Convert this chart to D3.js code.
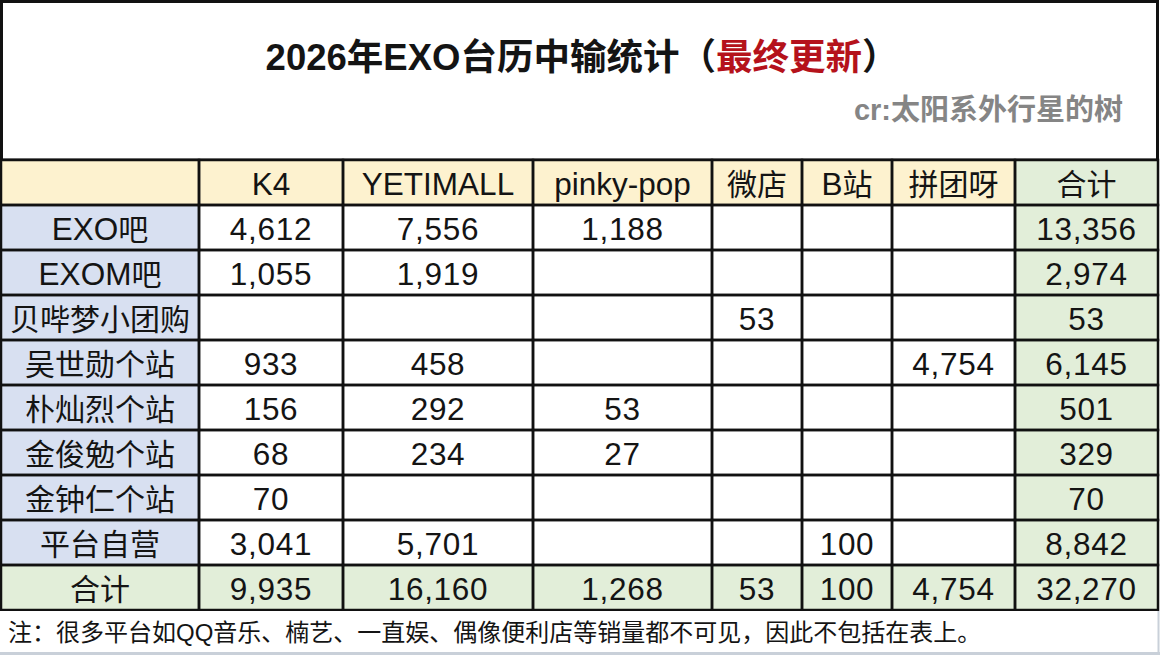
<!DOCTYPE html>
<html><head><meta charset="utf-8">
<script src="https://cdn.jsdelivr.net/npm/d3@7"></script>
<style>html,body{margin:0;padding:0;background:#fff;} svg{display:block}</style>
</head><body>
<svg id="chart" width="1160" height="656"></svg>
<script>
// ---------- data ----------
const titleMain = "2026年EXO台历中输统计（";
const titleRed = "最终更新";
const titleEnd = "）";
const credit = "cr:太阳系外行星的树";
const note = "注：很多平台如QQ音乐、楠艺、一直娱、偶像便利店等销量都不可见，因此不包括在表上。";
const columns = ["K4", "YETIMALL", "pinky-pop", "微店", "B站", "拼团呀"];
const totalLabel = "合计";
const rowLabels = ["EXO吧", "EXOM吧", "贝哔梦小团购", "吴世勋个站", "朴灿烈个站", "金俊勉个站", "金钟仁个站", "平台自营"];
const k4 =        [4612, 1055, null, 933, 156, 68, 70, 3041];
const yetimall =  [7556, 1919, null, 458, 292, 234, null, 5701];
const pinkyPop =  [1188, null, null, null, 53, 27, null, null];
const weidian =   [null, null, 53, null, null, null, null, null];
const bzhan =     [null, null, null, null, null, null, null, 100];
const pintuanya = [null, null, null, 4754, null, null, null, null];
const rowTotals = [13356, 2974, 53, 6145, 501, 329, 70, 8842];
const colTotals = [9935, 16160, 1268, 53, 100, 4754];
const grandTotal = 32270;

const seriesByColumn = [k4, yetimall, pinkyPop, weidian, bzhan, pintuanya];

// ---------- layout ----------
const W = 1160, H = 656;
const FONT = "'Liberation Sans', 'Noto Sans CJK SC', sans-serif";
const colKeys = ["label", ...columns, "total"];
const colEdges = [1, 199, 343, 533, 712, 802, 892, 1015, 1158];
const xLeft = d3.scaleOrdinal().domain(colKeys).range(colEdges.slice(0, -1));
const xRight = d3.scaleOrdinal().domain(colKeys).range(colEdges.slice(1));
const rowKeys = ["header", ...rowLabels, "total"];
const y = d3.scaleBand().domain(rowKeys).range([160, 610]);
const fmt = d3.format(",");

const C = {
  yellow: "#fdf2cf",
  blue: "#d8e0f1",
  green: "#e2eed9",
  white: "#ffffff",
  line: "#111",
  text: "#141414",
  red: "#b5121b",
  gray: "#858585"
};

// split a string into CJK / Latin runs
const CJK_RUN = /([\u3000-\u303f\u3400-\u9fff\uff00-\uffef]+)/;
const CJK_ONLY = /^[\u3000-\u303f\u3400-\u9fff\uff00-\uffef]+$/;
function runs(s) {
  return s.split(CJK_RUN).filter(p => p.length).map(p => ({ s: p, cjk: CJK_ONLY.test(p) }));
}

// build cell table
const cells = [];
rowKeys.forEach((r, ri) => {
  colKeys.forEach((c, ci) => {
    let text = "", fill = C.white, num = false;
    if (r === "header") {
      fill = c === "total" ? C.green : C.yellow;
      text = c === "label" ? "" : (c === "total" ? totalLabel : c);
    } else if (r === "total") {
      fill = C.green;
      if (c === "label") text = totalLabel;
      else if (c === "total") { text = fmt(grandTotal); num = true; }
      else { text = fmt(colTotals[ci - 1]); num = true; }
    } else {
      const i = ri - 1;
      if (c === "label") { fill = C.blue; text = r; }
      else if (c === "total") { fill = C.green; text = fmt(rowTotals[i]); num = true; }
      else {
        const v = seriesByColumn[ci - 1][i];
        text = v == null ? "" : fmt(v);
        num = v != null;
      }
    }
    cells.push({ r, c, text, fill, num });
  });
});

const svg = d3.select("#chart").attr("viewBox", `0 0 ${W} ${H}`);
svg.append("rect").attr("width", W).attr("height", H).attr("fill", "#fff");

// title box
svg.append("rect").attr("x", 1.5).attr("y", 1.5).attr("width", 1156).attr("height", 158.5)
  .attr("fill", "#fff").attr("stroke", C.line).attr("stroke-width", 3);

const t = svg.append("text").attr("x", 582).attr("y", 70).attr("text-anchor", "middle")
  .attr("font-family", FONT).attr("font-weight", "bold").attr("font-size", 36.5).attr("fill", C.text);
t.append("tspan").text(titleMain);
t.append("tspan").attr("fill", C.red).text(titleRed);
t.append("tspan").text(titleEnd);

svg.append("text").attr("x", 1123).attr("y", 120).attr("text-anchor", "end")
  .attr("font-family", FONT).attr("font-weight", "bold").attr("font-size", 29).attr("fill", C.gray)
  .text(credit);

// cells
const g = svg.append("g");
g.selectAll("rect.cell").data(cells).join("rect").attr("class", "cell")
  .attr("x", d => xLeft(d.c)).attr("y", d => y(d.r))
  .attr("width", d => xRight(d.c) - xLeft(d.c)).attr("height", y.bandwidth())
  .attr("fill", d => d.fill);

g.selectAll("rect.border").data(cells).join("rect").attr("class", "border")
  .attr("x", d => xLeft(d.c)).attr("y", d => y(d.r))
  .attr("width", d => xRight(d.c) - xLeft(d.c)).attr("height", y.bandwidth())
  .attr("fill", "none").attr("stroke", C.line).attr("stroke-width", 2.5);

const labels = g.selectAll("text.cell").data(cells.filter(d => d.text)).join("text").attr("class", "cell")
  .attr("x", d => (xLeft(d.c) + xRight(d.c)) / 2)
  .attr("y", d => y(d.r) + y.bandwidth() / 2 + 12)
  .attr("text-anchor", "middle")
  .attr("font-family", FONT).attr("fill", C.text)
  .attr("letter-spacing", d => d.num ? 0.7 : 0);
labels.selectAll("tspan").data(d => runs(d.text)).join("tspan")
  .attr("font-size", p => p.cjk ? 30 : 31.5)
  .text(p => p.s);

// note row
svg.append("rect").attr("x", 0).attr("y", 611).attr("width", W).attr("height", 45).attr("fill", "#fff");
svg.append("line").attr("x1", 0).attr("x2", W).attr("y1", 653.5).attr("y2", 653.5)
  .attr("stroke", "#c9d0d9").attr("stroke-width", 3);
svg.append("line").attr("x1", 1158.5).attr("x2", 1158.5).attr("y1", 611).attr("y2", 655)
  .attr("stroke", "#c9d0d9").attr("stroke-width", 2);
svg.append("text").attr("x", 8).attr("y", 641)
  .attr("font-family", FONT).attr("font-size", 24).attr("fill", C.text)
  .text(note);
</script>
</body></html>
